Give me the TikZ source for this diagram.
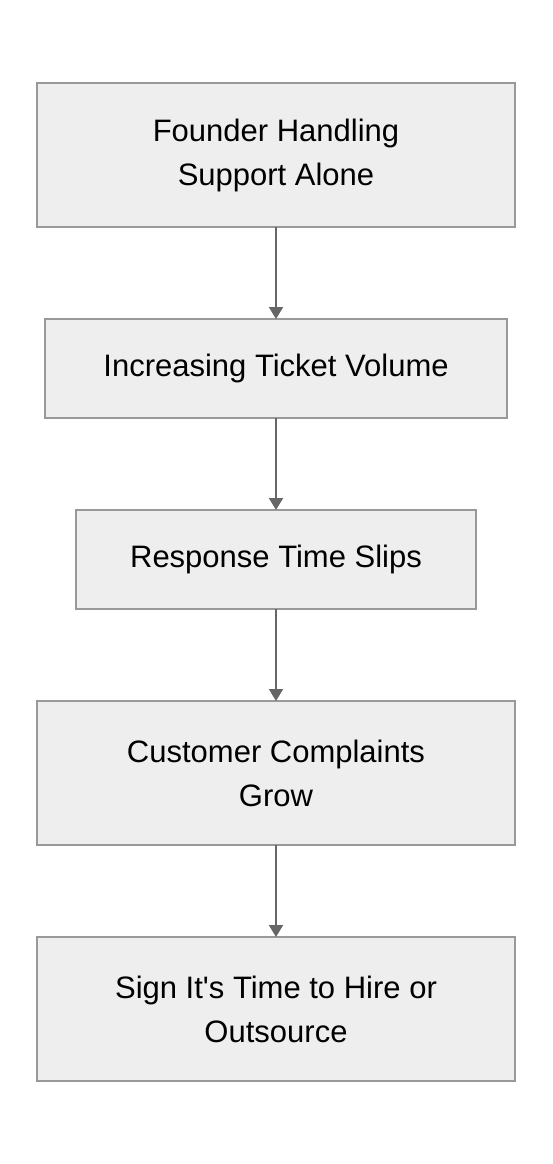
\documentclass[tikz,border=0pt]{standalone}
\usepackage{fontspec}
\setmainfont{Liberation Sans}
\usetikzlibrary{arrows.meta,positioning}
\definecolor{boxfill}{HTML}{EEEEEE}
\definecolor{boxline}{HTML}{999999}
\definecolor{arrowgray}{HTML}{666666}

\begin{document}
\begin{tikzpicture}[x=1pt,y=-1pt,% styles for all boxes and arrows
			every node/.style={
				align=center,		% "\\" breaks the line
				font=\fontsize{31pt}{44pt}\selectfont
			},
			stage/.style={rectangle,draw=boxline,line width=1.5pt,fill=boxfill,outer sep=0pt,minimum width=478pt},
			every edge/.style={draw=arrowgray,line width=2pt},
			node distance=92pt
		]
		\fill[white] (0,0) rectangle (552,1164);
		\node[stage,minimum height=144pt](S1) at (276,155){Founder Handling\\Support Alone};
		\node[stage,minimum width=462pt,minimum height=99pt](S2)[below= of S1]{Increasing Ticket Volume};
		\node[stage,minimum width=400pt,minimum height=99pt](S3)[below= of S2]{Response Time Slips};
		\node[stage,minimum height=144pt](S4)[below= of S3]{Customer Complaints\\Grow};
		\node[stage,minimum height=144pt](S5)[below= of S4]{Sign It\textquotesingle s Time to Hire or\\Outsource};
		\path[-{Triangle[length=12pt,width=14pt]}]
		(S1)edge []	node [] {} (S2)
		(S2)edge []	node [] {} (S3)
		(S3)edge []	node [] {} (S4)
		(S4)edge []	node [] {} (S5)
		;
	\end{tikzpicture}
\end{document}
